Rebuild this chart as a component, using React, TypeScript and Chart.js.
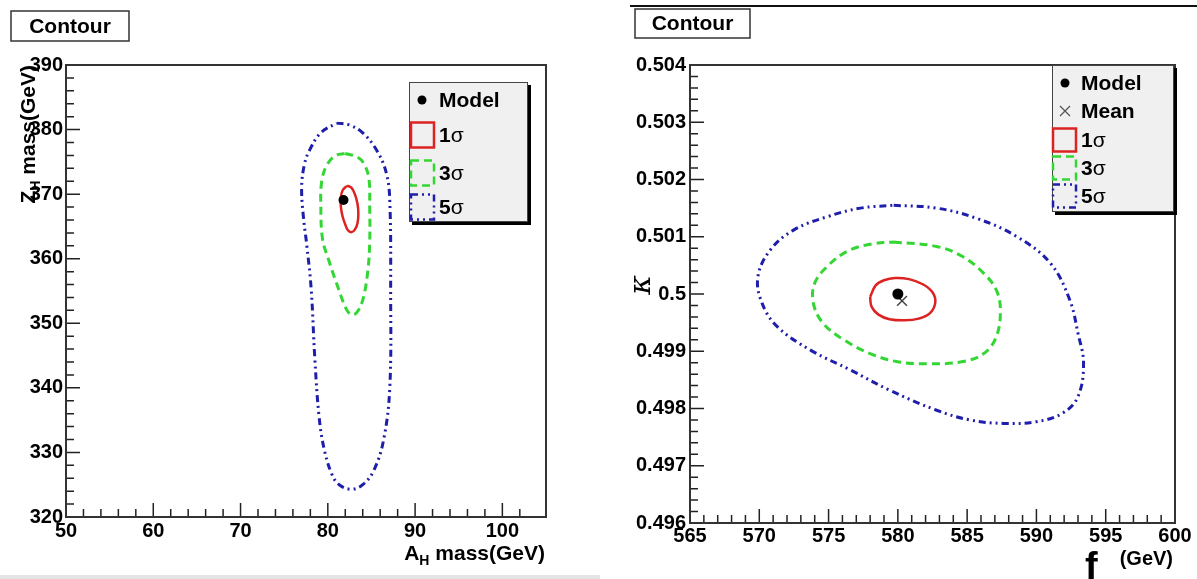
import React, { useEffect, useRef } from "react";
import { Chart, registerables } from "chart.js";

Chart.register(...registerables);

const FONT = '"Liberation Sans", Arial, Helvetica, sans-serif';
const RED = "#dd2222";
const GREEN = "#33d633";
const BLUE = "#1e1eaa";
const GREEN_DASH = [8, 5];
const BLUE_DASH = [7, 4, 2, 4, 2, 4];

// ---------------- Left panel: A_H mass vs Z_H mass ----------------
const leftXRange = [50, 105];
const leftYRange = [320, 390];
const leftModelX = [81.8];
const leftModelY = [369.1];
const leftSigma1X = [82.2, 82.7, 83.1, 83.4, 83.5, 83.4, 83.1, 82.7, 82.3, 82.0, 81.7, 81.5, 81.5, 81.7];
const leftSigma1Y = [371.3, 371.0, 370.0, 368.5, 367.0, 365.5, 364.5, 364.1, 364.4, 365.3, 366.5, 368.0, 369.5, 370.6];
const leftSigma3X = [82.0, 83.3, 84.1, 84.7, 84.8, 84.8, 84.6, 84.1, 83.5, 82.9, 82.2, 81.0, 80.1, 79.4, 79.2, 79.3, 79.9, 80.9];
const leftSigma3Y = [376.3, 375.8, 374.8, 372.5, 368.0, 362.5, 358.3, 354.1, 352.0, 351.3, 352.0, 356.2, 359.8, 363.0, 368.0, 372.0, 374.5, 376.0];
const leftSigma5X = [81.0, 82.5, 84.0, 85.6, 86.7, 87.1, 87.2, 87.1, 86.4, 85.3, 84.0, 82.7, 81.3, 80.5, 79.6, 79.0, 78.5, 78.1, 77.6, 77.2, 77.0, 77.3, 77.9, 79.2];
const leftSigma5Y = [381.0, 380.7, 379.5, 376.8, 373.3, 369.0, 355.0, 340.0, 332.0, 327.3, 325.0, 324.3, 325.0, 326.5, 330.4, 335.5, 344.8, 355.2, 362.0, 366.5, 371.0, 374.5, 376.8, 379.5];

// ---------------- Right panel: f vs kappa ----------------
const rightXRange = [565, 600];
const rightYRange = [0.496, 0.504];
const rightModelX = [580.0];
const rightModelY = [0.5];
const rightMeanX = [580.3];
const rightMeanY = [0.49988];
const rightSigma1X = [578.0, 578.4, 579.0, 579.8, 580.8, 581.8, 582.5, 582.7, 582.3, 581.5, 580.5, 579.4, 578.6, 578.1];
const rightSigma1Y = [0.49995, 0.50015, 0.50024, 0.50028, 0.50026, 0.50017, 0.50003, 0.49985, 0.49966, 0.49957, 0.49954, 0.49956, 0.49964, 0.49978];
const rightSigma3X = [579.7, 582.8, 584.7, 586.2, 587.1, 587.4, 587.1, 586.2, 584.7, 582.3, 579.9, 578.0, 576.1, 574.6, 573.9, 574.0, 574.9, 576.3, 578.0];
const rightSigma3Y = [0.50091, 0.50083, 0.50065, 0.50036, 0.50007, 0.49972, 0.49925, 0.49896, 0.49882, 0.49878, 0.49882, 0.49896, 0.4992, 0.49949, 0.49984, 0.50019, 0.50048, 0.50074, 0.50087];
const rightSigma5X = [579.7, 582.8, 585.7, 588.6, 591.0, 592.4, 593.0, 593.4, 593.0, 591.9, 590.0, 587.6, 585.2, 582.8, 579.4, 576.6, 573.7, 571.3, 570.2, 569.9, 570.8, 572.5, 574.9, 577.3];
const rightSigma5Y = [0.50155, 0.5015, 0.50132, 0.501, 0.50054, 0.4999, 0.49931, 0.49879, 0.49821, 0.49792, 0.49777, 0.49774, 0.4978, 0.49797, 0.49832, 0.49867, 0.49902, 0.49943, 0.49984, 0.5003, 0.50077, 0.50112, 0.50135, 0.5015];

const sigmaLabels = ["1σ", "3σ", "5σ"];

// ---------------- helpers ----------------
function pts(xs: number[], ys: number[], close = false) {
  const out = xs.map((x, i) => ({ x, y: ys[i] }));
  if (close && out.length) out.push({ ...out[0] });
  return out;
}

function contour(label: string, xs: number[], ys: number[], color: string, dash: number[], width: number) {
  return {
    label,
    data: pts(xs, ys, true),
    showLine: true,
    borderColor: color,
    backgroundColor: color,
    borderWidth: width,
    borderDash: dash,
    pointRadius: 0,
    pointHoverRadius: 0,
    tension: 0.38,
    fill: false,
    legendKind: "box",
  };
}

function modelSet(xs: number[], ys: number[], r: number) {
  return {
    label: "Model",
    data: pts(xs, ys),
    showLine: false,
    pointRadius: r,
    pointBackgroundColor: "#000",
    pointBorderColor: "#000",
    pointBorderWidth: 0,
    legendKind: "dot",
  };
}

function isMajor(v: number, major: number) {
  const r = v / major;
  return Math.abs(r - Math.round(r)) < 1e-6;
}
function fmt(v: number) {
  return String(Number(v.toFixed(4)));
}

type Part = { t: string; s: number; dy?: number; w?: string };
function drawRich(ctx: CanvasRenderingContext2D, parts: Part[], x: number, y: number, align: "left" | "right" | "center") {
  const widths = parts.map((p) => {
    ctx.font = `${p.w || "bold"} ${p.s}px ${FONT}`;
    return ctx.measureText(p.t).width;
  });
  const total = widths.reduce((a, b) => a + b, 0);
  let cx = align === "right" ? x - total : align === "center" ? x - total / 2 : x;
  ctx.textAlign = "left";
  parts.forEach((p, i) => {
    ctx.font = `${p.w || "bold"} ${p.s}px ${FONT}`;
    ctx.fillText(p.t, cx, y + (p.dy || 0));
    cx += widths[i];
  });
}

type Legend = { x: number; y: number; w: number; h: number; rows: number[]; symX: number; boxX: number; boxW: number; boxH: number; textX: number };
type PanelCfg = {
  W: number;
  H: number;
  area: { left: number; top: number; right: number; bottom: number };
  x: { range: number[]; step: number; major: number; pad: number };
  y: { range: number[]; step: number; major: number; pad: number };
  datasets: any[];
  legend: Legend;
  draw: (ctx: CanvasRenderingContext2D) => void;
};

function drawLegend(ctx: CanvasRenderingContext2D, chart: any, L: Legend) {
  ctx.fillStyle = "#000";
  ctx.fillRect(L.x + 3, L.y + L.h, L.w, 3);
  ctx.fillRect(L.x + L.w, L.y + 3, 3, L.h);
  ctx.fillStyle = "#f0f0f0";
  ctx.fillRect(L.x, L.y, L.w, L.h);
  ctx.strokeStyle = "#444";
  ctx.lineWidth = 1;
  ctx.strokeRect(L.x + 0.5, L.y + 0.5, L.w - 1, L.h - 1);
  const entries = chart.data.datasets.filter((d: any) => d.legendKind);
  entries.forEach((d: any, i: number) => {
    const cy = L.rows[i];
    if (d.legendKind === "dot") {
      ctx.fillStyle = "#000";
      ctx.beginPath();
      ctx.arc(L.symX, cy, 4.5, 0, Math.PI * 2);
      ctx.fill();
    } else if (d.legendKind === "cross") {
      ctx.strokeStyle = "#555";
      ctx.lineWidth = 1.3;
      ctx.beginPath();
      ctx.moveTo(L.symX - 5, cy - 5);
      ctx.lineTo(L.symX + 5, cy + 5);
      ctx.moveTo(L.symX + 5, cy - 5);
      ctx.lineTo(L.symX - 5, cy + 5);
      ctx.stroke();
    } else {
      ctx.save();
      ctx.strokeStyle = d.borderColor;
      ctx.lineWidth = 2.5;
      ctx.setLineDash(d.borderDash || []);
      ctx.strokeRect(L.boxX, cy - L.boxH / 2, L.boxW, L.boxH);
      ctx.restore();
    }
    ctx.fillStyle = "#000";
    ctx.textBaseline = "middle";
    const m = /^(\d+)σ$/.exec(d.label);
    if (m) {
      drawRich(ctx, [{ t: m[1], s: 21 }, { t: "σ", s: 21, w: "normal" }], L.textX, cy + 1, "left");
    } else {
      drawRich(ctx, [{ t: d.label, s: 21 }], L.textX, cy + 1, "left");
    }
  });
}

function buildConfig(cfg: PanelCfg): any {
  const tickFont = { family: FONT, size: 20, weight: "bold" as const };
  const decor = {
    id: "rootDecor",
    afterDraw(chart: any) {
      const ctx: CanvasRenderingContext2D = chart.ctx;
      const a = chart.chartArea;
      const xs = chart.scales.x;
      const ys = chart.scales.y;
      ctx.save();
      ctx.strokeStyle = "#222";
      ctx.lineWidth = 1.5;
      ctx.beginPath();
      xs.ticks.forEach((t: any) => {
        const p = xs.getPixelForValue(t.value);
        const len = isMajor(t.value, cfg.x.major) ? 14 : 8;
        ctx.moveTo(p, a.bottom);
        ctx.lineTo(p, a.bottom - len);
      });
      ys.ticks.forEach((t: any) => {
        const p = ys.getPixelForValue(t.value);
        const len = isMajor(t.value, cfg.y.major) ? 14 : 8;
        ctx.moveTo(a.left, p);
        ctx.lineTo(a.left + len, p);
      });
      ctx.stroke();
      ctx.lineWidth = 2;
      ctx.strokeStyle = "#333";
      ctx.strokeRect(a.left, a.top, a.right - a.left, a.bottom - a.top);
      drawLegend(ctx, chart, cfg.legend);
      ctx.textBaseline = "alphabetic";
      ctx.fillStyle = "#000";
      cfg.draw(ctx);
      ctx.restore();
    },
  };
  return {
    type: "scatter",
    data: { datasets: cfg.datasets },
    options: {
      responsive: false,
      animation: false,
      devicePixelRatio: 1,
      events: [],
      layout: { padding: { left: 0, top: cfg.area.top, right: cfg.W - cfg.area.right, bottom: 0 } },
      plugins: { legend: { display: false }, tooltip: { enabled: false }, title: { display: false } },
      scales: {
        x: {
          type: "linear",
          position: "bottom",
          min: cfg.x.range[0],
          max: cfg.x.range[1],
          grid: { display: false, drawTicks: false },
          border: { display: false },
          ticks: {
            stepSize: cfg.x.step,
            maxTicksLimit: 1000,
            autoSkip: false,
            maxRotation: 0,
            minRotation: 0,
            padding: cfg.x.pad,
            font: tickFont,
            color: "#000",
            callback: (v: number) => (isMajor(v, cfg.x.major) ? fmt(v) : ""),
          },
          afterFit: (s: any) => {
            s.height = cfg.H - cfg.area.bottom;
          },
        },
        y: {
          type: "linear",
          position: "left",
          min: cfg.y.range[0],
          max: cfg.y.range[1],
          grid: { display: false, drawTicks: false },
          border: { display: false },
          ticks: {
            stepSize: cfg.y.step,
            maxTicksLimit: 1000,
            autoSkip: false,
            padding: cfg.y.pad,
            font: tickFont,
            color: "#000",
            callback: (v: number) => (isMajor(v, cfg.y.major) ? fmt(v) : ""),
          },
          afterFit: (s: any) => {
            s.width = cfg.area.left;
          },
        },
      },
    },
    plugins: [decor],
  };
}

function contourBox(ctx: CanvasRenderingContext2D, x: number, y: number, w: number, h: number) {
  ctx.fillStyle = "#fff";
  ctx.fillRect(x, y, w, h);
  ctx.strokeStyle = "#333";
  ctx.lineWidth = 1.5;
  ctx.strokeRect(x, y, w, h);
  ctx.fillStyle = "#000";
  ctx.font = `bold 21px ${FONT}`;
  ctx.textAlign = "center";
  ctx.textBaseline = "middle";
  ctx.fillText("Contour", x + w / 2, y + h / 2 + 1);
  ctx.textBaseline = "alphabetic";
}

const leftCfg: PanelCfg = {
  W: 600,
  H: 579,
  area: { left: 66, top: 65, right: 546, bottom: 517 },
  x: { range: leftXRange, step: 2, major: 10, pad: 2 },
  y: { range: leftYRange, step: 2, major: 10, pad: 3 },
  datasets: [
    modelSet(leftModelX, leftModelY, 5),
    contour(sigmaLabels[0], leftSigma1X, leftSigma1Y, RED, [], 2.5),
    contour(sigmaLabels[1], leftSigma3X, leftSigma3Y, GREEN, GREEN_DASH, 3),
    contour(sigmaLabels[2], leftSigma5X, leftSigma5Y, BLUE, BLUE_DASH, 3),
  ],
  legend: { x: 409, y: 82, w: 119, h: 140, rows: [100, 135, 173, 207], symX: 422, boxX: 411, boxW: 23, boxH: 25, textX: 439 },
  draw: (ctx) => {
    contourBox(ctx, 11, 11, 118, 30);
    ctx.fillStyle = "#000";
    drawRich(ctx, [{ t: "A", s: 21 }, { t: "H", s: 14, dy: 5 }, { t: " mass(GeV)", s: 21 }], 545, 560, "right");
    ctx.save();
    ctx.translate(35, 65);
    ctx.rotate(-Math.PI / 2);
    drawRich(ctx, [{ t: "Z", s: 21 }, { t: "H", s: 14, dy: 5 }, { t: " mass(GeV)", s: 21 }], 0, 0, "right");
    ctx.restore();
    ctx.fillStyle = "#e4e4e4";
    ctx.fillRect(0, 575, 600, 4);
  },
};

const rightCfg: PanelCfg = {
  W: 600,
  H: 579,
  area: { left: 93, top: 65, right: 578, bottom: 523 },
  x: { range: rightXRange, step: 1, major: 5, pad: 1 },
  y: { range: rightYRange, step: 0.0002, major: 0.001, pad: 4 },
  datasets: [
    modelSet(rightModelX, rightModelY, 5.5),
    {
      label: "Mean",
      data: pts(rightMeanX, rightMeanY),
      showLine: false,
      pointStyle: "crossRot",
      pointRadius: 7,
      pointBorderColor: "#444",
      pointBackgroundColor: "#444",
      pointBorderWidth: 1.5,
      legendKind: "cross",
    },
    contour(sigmaLabels[0], rightSigma1X, rightSigma1Y, RED, [], 2.5),
    contour(sigmaLabels[1], rightSigma3X, rightSigma3Y, GREEN, GREEN_DASH, 3),
    contour(sigmaLabels[2], rightSigma5X, rightSigma5Y, BLUE, BLUE_DASH, 3),
  ],
  legend: { x: 455, y: 65, w: 122, h: 147, rows: [83, 111, 140, 168, 196], symX: 468, boxX: 456, boxW: 23, boxH: 23, textX: 484 },
  draw: (ctx) => {
    ctx.fillStyle = "#111";
    ctx.fillRect(33, 5, 567, 2);
    contourBox(ctx, 38, 9, 115, 29);
    ctx.fillStyle = "#000";
    drawRich(ctx, [{ t: "f", s: 38 }], 488, 579, "left");
    drawRich(ctx, [{ t: "(GeV)", s: 20 }], 576, 565, "right");
    ctx.save();
    ctx.translate(45, 285);
    ctx.rotate(-Math.PI / 2);
    ctx.font = `italic 30px "DejaVu Serif", "Liberation Serif", serif`;
    ctx.textAlign = "center";
    ctx.textBaseline = "middle";
    ctx.fillText("κ", 0, 0);
    ctx.restore();
  },
};

function Panel({ cfg, left }: { cfg: PanelCfg; left: number }) {
  const ref = useRef<HTMLCanvasElement>(null);
  useEffect(() => {
    if (!ref.current) return;
    const chart = new Chart(ref.current, buildConfig(cfg));
    return () => chart.destroy();
  }, [cfg]);
  return (
    <canvas
      ref={ref}
      width={cfg.W}
      height={cfg.H}
      style={{ position: "absolute", left, top: 0, width: cfg.W, height: cfg.H }}
    />
  );
}

export default function App() {
  return (
    <div
      style={{
        position: "fixed",
        left: 0,
        top: 0,
        width: 1197,
        height: 579,
        background: "#fff",
        overflow: "hidden",
      }}
    >
      <Panel cfg={leftCfg} left={0} />
      <Panel cfg={rightCfg} left={597} />
    </div>
  );
}
